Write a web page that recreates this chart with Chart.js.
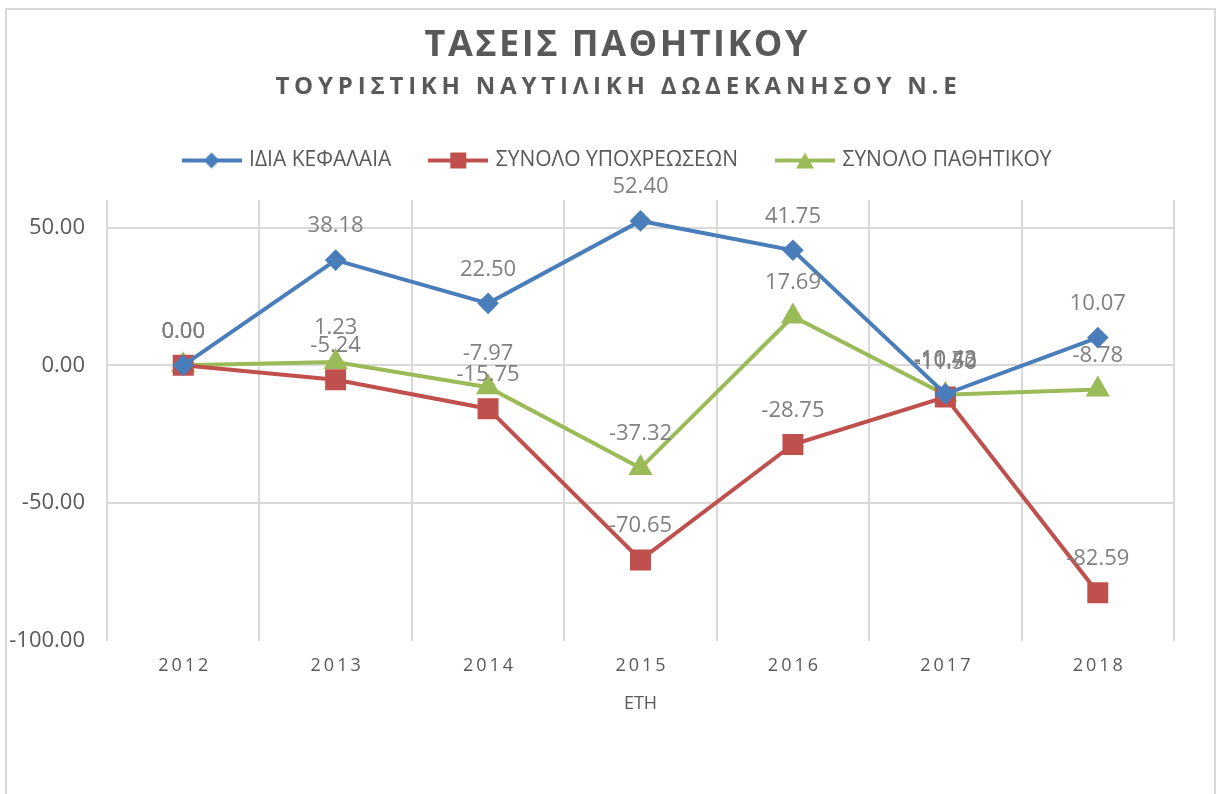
<!DOCTYPE html>
<html>
<head>
<meta charset="utf-8">
<script src="https://cdn.jsdelivr.net/npm/chart.js@4.4.1/dist/chart.umd.min.js"></script>
<style>
    html, body { margin: 0; padding: 0; background: #fff; }
    #wrap { position: relative; width: 1216px; height: 794px; overflow: hidden; }
    #frame { position: absolute; left: 5px; top: 8px; width: 1211px; height: 820px; border: 2px solid #d9d9d9; box-sizing: border-box; }
    #chart { position: absolute; left: 0; top: 0; }
</style>
</head>
<body>
<div id="wrap">
    <div id="frame"></div>
    <canvas id="chart" width="1216" height="794"></canvas>
</div>
<script>
// Data
const years = ['2012', '2013', '2014', '2015', '2016', '2017', '2018'];
const idiaKefalaia = [0.00, 38.18, 22.50, 52.40, 41.75, -10.43, 10.07];
const synoloYpoxreoseon = [0.00, -5.24, -15.75, -70.65, -28.75, -11.50, -82.59];
const synoloPathitikou = [0.00, 1.23, -7.97, -37.32, 17.69, -10.72, -8.78];
const yTicks = [-100, -50, 0, 50];

const BLUE = '#4a7ebb';
const RED = '#c0504d';
const GREEN = '#9bbb59';
const TEXT = '#595959';
const FONT = "'Open Sans', 'DejaVu Sans', sans-serif";
const SHIFT_X = 29; // header is centred a bit right of the plot centre

// legend icon: line with marker in the middle
function makeIcon(color, shape) {
    const c = document.createElement('canvas');
    c.width = 60; c.height = 22;
    const g = c.getContext('2d');
    g.strokeStyle = color;
    g.fillStyle = color;
    g.lineWidth = 4;
    g.beginPath(); g.moveTo(0, 11); g.lineTo(60, 11); g.stroke();
    g.beginPath();
    if (shape === 'diamond') {
        g.moveTo(30, 3); g.lineTo(38, 11); g.lineTo(30, 19); g.lineTo(22, 11);
    } else if (shape === 'square') {
        g.rect(22, 3, 16, 16);
    } else {
        g.moveTo(30, 3); g.lineTo(39, 19); g.lineTo(21, 19);
    }
    g.closePath(); g.fill();
    return c;
}
const icons = [makeIcon(BLUE, 'diamond'), makeIcon(RED, 'square'), makeIcon(GREEN, 'triangle')];

// value labels above each point
const valueLabels = {
    id: 'valueLabels',
    afterDatasetsDraw(chart) {
        const ctx = chart.ctx;
        ctx.save();
        ctx.font = "22px " + FONT;
        ctx.fillStyle = '#808080';
        ctx.textAlign = 'center';
        ctx.textBaseline = 'middle';
        chart.data.datasets.forEach((ds, i) => {
            chart.getDatasetMeta(i).data.forEach((pt, j) => {
                ctx.fillText(ds.data[j].toFixed(2), pt.x, pt.y - 34);
            });
        });
        ctx.restore();
    }
};

// legend gets extra room below it
const legendGap = {
    id: 'legendGap',
    beforeLayout(chart) {
        const lg = chart.legend;
        if (lg && !lg._gap) {
            const fit = lg.fit.bind(lg);
            lg.fit = function() { fit(); this.height += 19; };
            lg._gap = true;
        }
    }
};

// letter spacing + shift for titles, letter spacing for x tick labels
const spacing = {
    id: 'spacing',
    beforeDraw(chart) {
        chart.boxes.forEach(box => {
            if (box._spaced || box.axis) return;
            const isLegend = box.legendItems !== undefined;
            if (!isLegend && (!box.options || box.options.text === undefined)) return;
            const orig = box.draw.bind(box);
            box.draw = function(area) {
                const c = chart.ctx;
                c.save();
                if (isLegend) {
                    c.translate(SHIFT_X + 2, 0);
                } else {
                    const ls = box.options.font.size > 30 ? 2.5 : 4.8;
                    c.letterSpacing = ls + 'px';
                    c.translate(SHIFT_X + ls / 2, 0);
                }
                orig(area);
                c.restore();
            };
            box._spaced = true;
        });
        const xs = chart.scales.x;
        if (xs && !xs._spaced) {
            const origLabels = xs.drawLabels.bind(xs);
            xs.drawLabels = function(area) {
                chart.ctx.save();
                chart.ctx.letterSpacing = '3px';
                chart.ctx.translate(1.5, 0);
                origLabels(area);
                chart.ctx.restore();
            };
            xs._spaced = true;
        }
    }
};

const ctx = document.getElementById('chart').getContext('2d');
const chart = new Chart(ctx, {
    type: 'line',
    data: {
        labels: years,
        datasets: [{
            label: 'ΙΔΙΑ ΚΕΦΑΛΑΙΑ',
            data: idiaKefalaia,
            borderColor: BLUE,
            backgroundColor: BLUE,
            borderWidth: 4,
            pointStyle: 'rectRot',
            pointRadius: 8,
            pointHoverRadius: 8,
            tension: 0
        }, {
            label: 'ΣΥΝΟΛΟ ΥΠΟΧΡΕΩΣΕΩΝ',
            data: synoloYpoxreoseon,
            borderColor: RED,
            backgroundColor: RED,
            borderWidth: 4,
            pointStyle: 'rect',
            pointRadius: 12,
            pointHoverRadius: 12,
            tension: 0
        }, {
            label: 'ΣΥΝΟΛΟ ΠΑΘΗΤΙΚΟΥ',
            data: synoloPathitikou,
            borderColor: GREEN,
            backgroundColor: GREEN,
            borderWidth: 4,
            pointStyle: 'triangle',
            pointRadius: 10,
            pointHoverRadius: 10,
            tension: 0
        }]
    },
    options: {
        responsive: false,
        devicePixelRatio: 1,
        animation: false,
        layout: { padding: { left: 0, right: 42, top: 0, bottom: 79 } },
        scales: {
            x: {
                offset: true,
                grid: { offset: true, color: '#d9d9d9', lineWidth: 2, drawTicks: false },
                border: { display: false },
                ticks: { color: TEXT, font: { family: FONT, size: 18 }, padding: 14 },
                title: { display: true, text: 'ΕΤΗ', color: TEXT, font: { family: FONT, size: 18 }, padding: { top: 3, bottom: 0 } }
            },
            y: {
                min: -100,
                max: 60,
                afterBuildTicks(scale) { scale.ticks = yTicks.map(v => ({ value: v })); },
                afterFit(scale) { scale.width = 107; },
                grid: {
                    drawTicks: false,
                    lineWidth: 2,
                    color: c => (c.tick && c.tick.value === -100) ? 'rgba(0,0,0,0)' : '#d9d9d9'
                },
                border: { display: false },
                ticks: {
                    color: TEXT,
                    font: { family: FONT, size: 22 },
                    padding: 22,
                    callback: v => Number(v).toFixed(2)
                }
            }
        },
        plugins: {
            title: {
                display: true,
                text: 'ΤΑΣΕΙΣ ΠΑΘΗΤΙΚΟΥ',
                color: TEXT,
                font: { family: FONT, size: 36, weight: 'bold' },
                padding: { top: 24, bottom: 6 }
            },
            subtitle: {
                display: true,
                text: 'ΤΟΥΡΙΣΤΙΚΗ ΝΑΥΤΙΛΙΚΗ ΔΩΔΕΚΑΝΗΣΟΥ Ν.Ε',
                color: TEXT,
                font: { family: FONT, size: 24, weight: 'bold' },
                padding: { top: 0, bottom: 8 }
            },
            legend: {
                position: 'top',
                labels: {
                    color: TEXT,
                    font: { family: FONT, size: 21 },
                    usePointStyle: true,
                    pointStyleWidth: 54,
                    padding: 40,
                    generateLabels: c => Chart.defaults.plugins.legend.labels.generateLabels(c)
                        .map((item, i) => Object.assign(item, { pointStyle: icons[i] }))
                }
            },
            tooltip: { enabled: false }
        }
    },
    plugins: [legendGap, spacing, valueLabels]
});
</script>
</body>
</html>
